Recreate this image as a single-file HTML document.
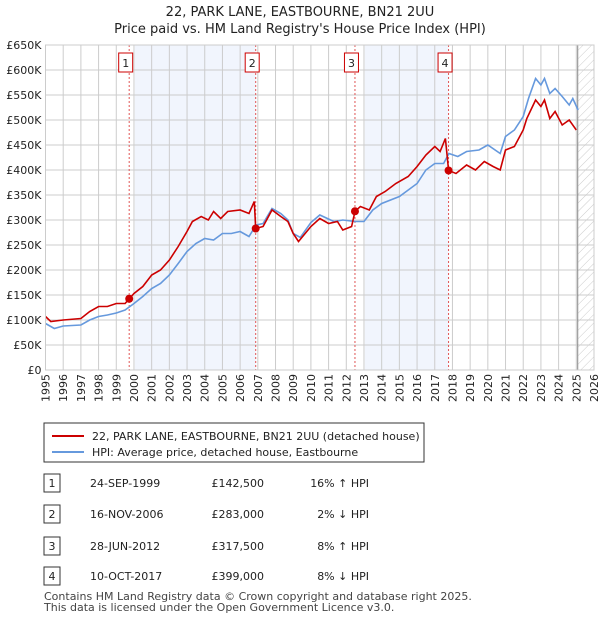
<!DOCTYPE html>
<html><head><meta charset="utf-8"><style>
body{margin:0;background:#fff;font-family:"DejaVu Sans","Liberation Sans",sans-serif;}
svg text{font-family:"DejaVu Sans","Liberation Sans",sans-serif;}
</style></head><body>
<svg id="c" width="600" height="620" xmlns="http://www.w3.org/2000/svg">
<defs><pattern id="hatch" width="6" height="6" patternUnits="userSpaceOnUse" patternTransform="rotate(45)"><line x1="0" y1="0" x2="0" y2="6" stroke="#ccc" stroke-width="1"/></pattern></defs>
<text x="300" y="16" text-anchor="middle" font-size="13" fill="#222">22, PARK LANE, EASTBOURNE, BN21 2UU</text>
<text x="300" y="33" text-anchor="middle" font-size="13" fill="#222">Price paid vs. HM Land Registry's House Price Index (HPI)</text>
<g id="plot"></g>
<g>
<rect x="44" y="423" width="380" height="39" fill="#fff" stroke="#333"/>
<line x1="52" y1="436" x2="84" y2="436" stroke="#cc0000" stroke-width="2"/>
<text x="92" y="440" font-size="11" fill="#222">22, PARK LANE, EASTBOURNE, BN21 2UU (detached house)</text>
<line x1="52" y1="452" x2="84" y2="452" stroke="#6699dd" stroke-width="2"/>
<text x="92" y="456" font-size="11" fill="#222">HPI: Average price, detached house, Eastbourne</text>
</g>
<g id="table" font-size="11" fill="#222"></g>
<text x="44" y="600" font-size="11" fill="#444">Contains HM Land Registry data © Crown copyright and database right 2025.</text>
<text x="44" y="611" font-size="11" fill="#444">This data is licensed under the Open Government Licence v3.0.</text>
</svg>
<script>
const hpiYears=[1995,1995.5,1996,1997,1997.5,1998,1998.5,1999,1999.5,2000,2000.5,2001,2001.5,2002,2002.5,2003,2003.5,2004,2004.5,2005,2005.5,2006,2006.5,2006.9,2007.3,2007.8,2008.3,2008.7,2009,2009.4,2010,2010.5,2011.3,2011.8,2012.5,2013,2013.5,2014,2015,2016,2016.5,2017,2017.5,2017.8,2018.3,2018.8,2019.5,2020,2020.7,2021,2021.5,2022,2022.3,2022.7,2023,2023.2,2023.5,2023.8,2024.2,2024.6,2024.8,2025.1];
const hpiValues=[93,83,88,90,100,107,110,114,120,133,147,163,173,190,213,237,253,263,260,273,273,277,267,290,293,323,313,300,273,265,295,310,297,300,297,297,320,333,347,373,400,413,413,433,427,437,440,450,433,467,480,507,543,583,570,583,553,563,547,530,543,520];
const propYears=[1995,1995.3,1996,1997,1997.5,1998,1998.5,1999,1999.5,1999.73,2000,2000.5,2001,2001.5,2002,2002.5,2003,2003.3,2003.8,2004.2,2004.5,2004.9,2005.3,2006,2006.5,2006.8,2006.88,2007.3,2007.8,2008.3,2008.7,2009,2009.3,2010,2010.5,2011,2011.5,2011.8,2012.3,2012.49,2012.8,2013.3,2013.7,2014.2,2014.8,2015.5,2016,2016.5,2017,2017.3,2017.6,2017.78,2018.2,2018.8,2019.3,2019.8,2020.3,2020.7,2021,2021.5,2022,2022.2,2022.7,2023,2023.2,2023.5,2023.8,2024.2,2024.6,2025];
const propValues=[107,97,100,103,117,127,127,133,133,142.5,153,167,190,200,220,247,277,297,307,300,317,303,317,320,313,337,283,287,320,307,297,273,257,287,303,293,297,280,287,317.5,327,320,347,357,373,387,407,430,447,437,463,399,393,410,400,417,407,400,440,447,480,503,540,527,540,503,517,490,500,480];
const saleLabels=["1","2","3","4"];
const saleYears=[1999.73,2006.88,2012.49,2017.78];
const saleValues=[142.5,283,317.5,399];
const saleDates=["24-SEP-1999","16-NOV-2006","28-JUN-2012","10-OCT-2017"];
const salePrices=["£142,500","£283,000","£317,500","£399,000"];
const saleHpi=["16% ↑ HPI","2% ↓ HPI","8% ↑ HPI","8% ↓ HPI"];
const shadeRanges=[[2000.05,2006.88],[2013.05,2017.78]];
const yTicks=[0,50,100,150,200,250,300,350,400,450,500,550,600,650];
const xTicks=[1995,1996,1997,1998,1999,2000,2001,2002,2003,2004,2005,2006,2007,2008,2009,2010,2011,2012,2013,2014,2015,2016,2017,2018,2019,2020,2021,2022,2023,2024,2025,2026];
const NS="http://www.w3.org/2000/svg";
const X0=45.5,X1=594,Y0=370,Y1=45;
const xs=t=>X0+(t-1995)/(2026-1995)*(X1-X0);
const ys=v=>Y0-v/650*(Y0-Y1);
const plot=document.getElementById('plot');
function mk(tag,attrs,parent){const e=document.createElementNS(NS,tag);for(const k in attrs)e.setAttribute(k,attrs[k]);(parent||plot).appendChild(e);return e;}
shadeRanges.forEach(r=>{const e=mk('rect',{x:xs(r[0]),y:Y1,width:xs(r[1])-xs(r[0]),height:Y0-Y1,fill:'#f1f5fd'});

});
const h=mk('rect',{x:xs(2025.08),y:Y1,width:X1-xs(2025.08),height:Y0-Y1,fill:'url(#hatch)'});


yTicks.forEach(v=>{mk('line',{x1:X0,x2:X1,y1:ys(v),y2:ys(v),stroke:'#ccc','stroke-width':1});
const t=mk('text',{x:X0-4,y:ys(v)+4,'text-anchor':'end','font-size':11,fill:'#222'});t.textContent=v==0?'£0':'£'+v+'K';

});
xTicks.forEach(y=>{mk('line',{x1:xs(y),x2:xs(y),y1:Y1,y2:Y0,stroke:'#ccc','stroke-width':1});
const t=mk('text',{x:0,y:0,'text-anchor':'end','font-size':11,fill:'#222',transform:`translate(${xs(y)+4},${Y0+4}) rotate(-90)`});t.textContent=y;

});
mk('line',{x1:xs(2025.08),x2:xs(2025.08),y1:Y1,y2:Y0,stroke:'#888','stroke-width':1});
saleYears.forEach((y,i)=>{const l=mk('line',{x1:xs(y),x2:xs(y),y1:Y1,y2:Y0,stroke:'#e05555','stroke-dasharray':'2,2','stroke-width':1});


const b=mk('rect',{x:xs(y)-10.5,y:53,width:14,height:19,fill:'#fff',stroke:'#cc0000'});


const t=mk('text',{x:xs(y)-3.5,y:67,'text-anchor':'middle','font-size':11,fill:'#222'});t.textContent=saleLabels[i];});
const pts=(ya,va)=>ya.map((y,i)=>xs(y).toFixed(1)+','+ys(va[i]).toFixed(1)).join(' ');
const hl=mk('polyline',{points:pts(hpiYears,hpiValues),fill:'none',stroke:'#6699dd','stroke-width':1.6});


const pl=mk('polyline',{points:pts(propYears,propValues),fill:'none',stroke:'#cc0000','stroke-width':1.6});


saleYears.forEach((y,i)=>{const c=mk('circle',{cx:xs(y),cy:ys(saleValues[i]),r:4,fill:'#cc0000'});

});
mk('rect',{x:X0,y:Y1,width:X1-X0,height:Y0-Y1,fill:'none',stroke:'#ccc'});
const tb=document.getElementById('table');
const rowY=[483,514,546,576];
saleLabels.forEach((s,i)=>{const y=rowY[i];
const b=mk('rect',{x:44,y:y-9,width:16,height:18,fill:'#fff',stroke:'#333'},tb);


const n=mk('text',{x:52,y:y+4,'text-anchor':'middle'},tb);n.textContent=s;
const d=mk('text',{x:90,y:y+4},tb);d.textContent=saleDates[i];


const p=mk('text',{x:264,y:y+4,'text-anchor':'end'},tb);p.textContent=salePrices[i];


const q=mk('text',{x:369,y:y+4,'text-anchor':'end'},tb);q.textContent=saleHpi[i];

});
</script>
</body></html>
